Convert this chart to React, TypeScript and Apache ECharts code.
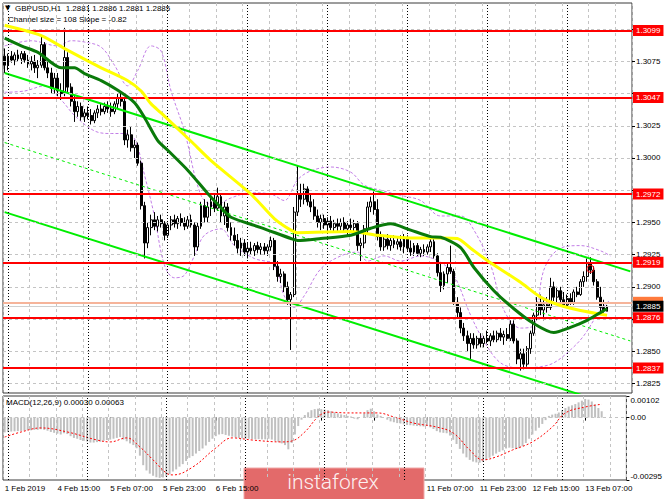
import React, { useEffect, useRef } from "react";
import * as echarts from "echarts";

// prices are stored in pips above 1.2800
const BASE = 1.28;
const TOTAL_SLOTS = 189;

const opens = [
  279,272,279,276,280,277,281,276,273,275,
  270,272,288,270,266,254,262,252,250,278,
  255,244,236,240,232,235,233,229,235,238,
  236,240,238,236,242,247,244,214,218,208,
  210,196,163,134,146,152,147,152,149,140,
  148,152,149,153,150,147,152,148,131,147,
  163,154,162,166,161,170,155,162,146,140,
  136,130,134,127,130,128,132,129,131,128,
  131,136,116,108,110,100,90,94,158,172,
  168,176,166,162,155,150,153,148,151,146,
  149,147,150,145,148,146,149,132,134,145,
  162,166,160,139,131,137,132,136,133,135,
  131,138,130,127,132,126,129,127,131,135,
  124,111,101,110,115,112,88,80,68,62,
  56,60,55,60,56,60,58,62,59,64,
  61,63,60,71,58,44,48,40,52,64,
  78,88,82,86,84,100,92,97,90,86,
  91,88,96,94,104,108,118,113,104,92,
  84,81
];
const highs = [
  285,281,283,282,284,283,283,280,279,280,
  276,294,290,276,270,266,266,258,301,282,
  258,248,244,243,238,240,238,237,241,242,
  243,244,243,244,250,252,246,222,224,214,
  212,198,166,150,156,158,155,156,151,150,
  155,156,155,157,154,155,156,150,150,166,
  168,166,170,172,177,172,166,165,150,146,
  141,138,137,134,135,134,135,134,134,133,
  139,138,120,114,112,104,96,162,194,180,
  180,178,172,168,160,156,156,154,155,152,
  153,153,154,151,153,152,151,138,148,166,
  170,174,168,143,140,141,139,140,139,140,
  141,140,136,134,134,131,133,133,137,137,
  126,118,112,118,132,114,92,84,72,66,
  64,64,62,64,62,66,64,66,66,68,
  66,68,74,74,60,52,52,54,66,80,
  92,94,90,92,107,104,100,100,96,94,
  95,98,100,106,112,122,123,116,106,100,
  90,86
];
const lows = [
  266,268,274,272,275,273,274,270,268,266,
  262,270,268,262,250,250,248,245,248,250,
  240,228,232,229,228,230,226,227,231,233,
  234,235,232,234,238,240,210,208,205,200,
  194,160,122,130,140,144,143,146,136,138,
  144,146,145,147,144,145,146,124,128,145,
  150,150,155,158,159,150,148,143,136,132,
  126,124,124,122,125,124,126,125,125,124,
  128,113,104,103,96,86,51,92,155,162,
  164,163,158,152,146,144,145,142,144,142,
  143,144,142,140,143,141,128,120,130,142,
  158,156,136,128,128,129,128,130,129,128,
  126,128,124,124,124,123,124,125,127,122,
  108,96,98,103,110,86,76,64,58,50,
  43,52,52,53,53,56,54,57,57,58,
  55,58,58,56,40,35,36,38,48,62,
  74,78,74,80,82,89,88,88,84,84,
  86,86,92,93,100,104,110,101,90,80,
  80,81
];
const closes = [
  272,279,276,280,277,281,276,273,275,270,
  272,288,270,266,254,262,252,250,278,255,
  244,236,240,232,235,233,229,235,238,236,
  240,238,236,242,247,244,214,218,208,210,
  196,163,134,146,152,147,152,149,140,148,
  152,149,153,150,147,152,148,131,147,163,
  154,162,166,161,170,155,162,146,140,136,
  130,134,127,130,128,132,129,131,128,131,
  136,116,108,110,100,90,94,158,172,168,
  176,166,162,155,150,153,148,151,146,149,
  147,150,145,148,146,149,132,134,145,162,
  166,160,139,131,137,132,136,133,135,131,
  138,130,127,132,126,129,127,131,135,124,
  111,101,110,115,112,88,80,68,62,56,
  60,55,60,56,60,58,62,59,64,61,
  63,60,71,58,44,48,40,52,64,78,
  88,82,86,84,100,92,97,90,86,91,
  88,96,94,104,108,118,113,104,92,84,
  82,85
];

// moving averages / bands: [bar index, pips]
const maYellow = [
  [0,303],[11,295],[19,283.5],[29,270],[37,260],[41,252],[44,242],[47,235],[56,213],[62,198],
  [74,172],[81,153],[86,144],[88,142],[104,143],[112,140],[122,138],[131,138],[136,137.5],
  [140,130],[145,120.5],[155,103.5],[161,92],[167,85.5],[173,81.7],[181,78]
];
const maGreen = [
  [0,293],[5,287],[10,282],[17,270],[21,270],[24,265.5],[29,260],[34,252.5],[39,243],[42,231.5],
  [46,213.5],[49,206],[55,190.5],[61,172.5],[65,161.5],[68,154],[77,146],[86,137.5],[88,136],
  [95,137.5],[104,140],[110,145.5],[116,149],[122,144],[128,139],[131,138.5],[137,130.5],
  [141,115],[147,97],[153,83],[159,71.5],[165,64.5],[170,68.5],[175,74],[179,80],[181,83]
];
const bandUpper = [
  [0,287],[8,291],[16,287],[20,291],[24,290],[29,286],[33,272],[37,256],[40,268],[44,287],
  [47,283],[50,252],[54,221],[59,171],[63,163],[68,169],[74,173],[80,172],[84,167],[88,183],
  [92,190],[98,193],[104,189],[108,179],[113,175],[119,171],[125,167],[131,155],[137,155],
  [141,144],[146,117],[150,82],[155,68],[159,70],[162,113],[167,130],[173,132],[179,128],[182,124]
];
const bandLower = [
  [0,251],[6,252],[12,256],[17,245],[21,233],[27,221],[32,219],[36,219],[39,215],[42,187],
  [45,155],[48,117],[51,107],[54,109],[57,124],[60,140],[65,145],[69,132],[75,122],[81,117],
  [84,93],[87,84],[90,93],[95,114],[101,124],[106,127],[109,120],[114,124],[119,120],[125,124],
  [131,119],[135,109],[140,78],[144,58],[149,41],[155,37],[161,38],[165,41],[170,51],[174,62],
  [179,82],[182,90]
];
// linear regression channel (size 108, slope -0.82 per bar)
const channelUpper = [[0,266],[188,112]];
const channelMiddle = [[0,212],[188,58]];
const channelLower = [[0,158],[188,4]];

// MACD main (histogram) in 1e-5 units, one per bar
const macdMain = [
  -70,-68,-66,-65,-64,-63,-62,-60,-60,-58,-58,-55,
  -58,-62,-68,-72,-76,-80,-74,-78,
  -88,-96,-100,-106,-110,-113,
  -118,-118,-116,-114,
  -110,-106,-104,-100,-96,-92,-104,-112,-122,-130,
  -145,
  -180,-225,-250,-265,-275,-282,-285,-283,-278,
  -268,-255,-245,-232,-220,-205,
  -190,-182,-170,-158,-146,-132,
  -115,-100,-88,-80,
  -78,-82,-86,-90,
  -94,-96,-98,-100,-100,-101,-102,-102,-103,-103,-100,-104,-110,-116,-122,-130,
  -150,
  -120,-80,-40,
  -10,12,
  25,35,40,42,40,38,35,
  30,25,20,15,12,8,
  5,-5,-8,0,
  20,35,42,30,
  15,8,0,
  -10,-18,-22,-26,-28,-32,
  -35,-36,-38,-40,-41,-42,-40,
  -46,-54,-64,-70,-72,-74,-85,
  -105,-125,-148,-170,-188,
  -200,-208,-212,-213,-210,
  -200,-190,-180,-170,-162,
  -155,-146,-142,-145,
  -148,-145,-135,-120,
  -100,-80,-62,-48,
  -30,-12,
  8,14,18,24,
  35,45,52,58,64,72,80,
  88,85,76,
  62,45,30
];
const macdSignal = [
  [0,-92],[5,-68],[11,-49],[19,-68],[28,-106],[32,-115],[37,-96],[41,-139],[45,-200],[49,-262],
  [51,-271],[57,-234],[64,-144],[69,-96],[75,-106],[84,-115],[87,-111],[91,-68],[95,3],[98,26],
  [104,22],[113,22],[118,3],[124,-26],[131,-45],[136,-73],[141,-153],[145,-200],[149,-186],
  [154,-153],[160,-115],[166,-45],[170,22],[176,50],[181,63]
];

const levels = [1.3099, 1.3047, 1.2972, 1.2919, 1.2876, 1.2837];
const askPrice = 1.2888;
const bidPrice = 1.2885;
const priceTicks = [1.2825, 1.285, 1.2875, 1.29, 1.2925, 1.295, 1.2975, 1.3, 1.3025, 1.305, 1.3075, 1.31];
// tick labels hidden behind the level tags in the reference
const coveredPriceLabels = [1.2875, 1.2975, 1.305, 1.31];
const macdTicks = [-0.00295, 0, 0.00102];
const timeLabels = [
  "1 Feb 2019", "4 Feb 15:00", "5 Feb 07:00", "5 Feb 23:00", "6 Feb 15:00", "7 Feb 07:00",
  "7 Feb 23:00", "8 Feb 15:00", "11 Feb 07:00", "11 Feb 23:00", "12 Feb 15:00", "13 Feb 07:00"
];
// labels fully covered by the watermark in the reference
const coveredLabels = ["7 Feb 07:00", "7 Feb 23:00", "8 Feb 15:00"];
const daySeparators = [1, 25, 49, 73, 97, 121, 145, 169];
const signalMark = [176, 114];

const FONT = "'Liberation Sans', 'DejaVu Sans', Arial, sans-serif";

export default function App() {
  const ref = useRef<HTMLDivElement>(null);
  useEffect(() => {
    if (!ref.current) return;
    const chart = echarts.init(ref.current, undefined, { renderer: "svg" });
    const p = (v: number) => Math.round((BASE + v / 10000) * 100000) / 100000;
    const categories = Array.from({ length: TOTAL_SLOTS }, (_, i) => String(i));
    const candles = opens.map((o, i) => [p(o), p(closes[i]), p(lows[i]), p(highs[i])]);
    const pts = (arr: number[][]) => arr.map(([i, v]) => [i, p(v)]);
    const priceLabelValues = priceTicks.filter((v) => !coveredPriceLabels.includes(v));
    const gridLine = { color: "#c4c4c4", type: [3, 3], width: 1 };
    const sepLine = { color: "#000000", type: [1, 2], width: 1 };
    const lvlLabel = (bg: string, fg: string) => ({
      show: true,
      position: "end",
      distance: 1,
      formatter: (pp: any) => Number(pp.value).toFixed(4),
      backgroundColor: bg,
      color: fg,
      padding: [1, 3, 1, 3],
      fontSize: 8,
      lineHeight: 9,
      fontFamily: FONT,
    });
    const askTag = {
      show: true,
      position: "end",
      distance: 1,
      formatter: "{a|}",
      rich: { a: { width: 30, height: 11, backgroundColor: "#ff7a3c" } },
    };
    const axisText = { fontSize: 8, fontFamily: FONT, color: "#000" };

    const option: any = {
      animation: false,
      backgroundColor: "#ffffff",
      grid: [
        { left: 3, top: 3, width: 629, height: 390, show: true, borderColor: "#3a3a3a", borderWidth: 1 },
        { left: 3, top: 396, width: 629, height: 84, show: true, borderColor: "#3a3a3a", borderWidth: 1 },
      ],
      xAxis: [
        {
          type: "category", gridIndex: 0, data: categories, boundaryGap: true,
          axisLine: { show: false }, axisTick: { show: false }, axisLabel: { show: false },
          splitLine: { show: true, interval: 7, lineStyle: gridLine },
        },
        {
          type: "category", gridIndex: 1, data: categories, boundaryGap: true,
          axisLine: { show: false },
          axisTick: { show: true, interval: 15, alignWithLabel: true, length: 3, lineStyle: { color: "#000" } },
          axisLabel: {
            show: true, interval: 15, align: "left", margin: 4, ...axisText,
            formatter: (_v: string, idx: number) => {
              const t = timeLabels[idx / 16] ?? "";
              return coveredLabels.includes(t) ? "" : t;
            },
          },
          splitLine: { show: true, interval: 7, lineStyle: gridLine },
        },
      ],
      yAxis: [
        {
          type: "value", gridIndex: 0, position: "right", min: 1.28176, max: 1.31203,
          splitLine: { show: false }, axisLine: { show: false },
          axisTick: { show: true, customValues: priceTicks, length: 3, lineStyle: { color: "#000" } },
          axisLabel: { show: true, customValues: priceLabelValues, margin: 4, ...axisText, formatter: (v: number) => v.toFixed(4) },
        },
        {
          type: "value", gridIndex: 1, position: "right", min: -0.00295, max: 0.00102,
          splitLine: { show: false }, axisLine: { show: false },
          axisTick: { show: true, customValues: macdTicks, length: 3, lineStyle: { color: "#000" } },
          axisLabel: {
            show: true, customValues: macdTicks, margin: 4, ...axisText,
            verticalAlignMaxLabel: "top", verticalAlignMinLabel: "bottom",
            formatter: (v: number) => (v === 0 ? "0.00" : v.toFixed(5)),
          },
        },
      ],
      series: [
        {
          name: "gridMain", type: "line", xAxisIndex: 0, yAxisIndex: 0, data: [], z: 1, silent: true,
          markLine: {
            silent: true, precision: 6, symbol: ["none", "none"], label: { show: false }, lineStyle: gridLine,
            data: [
              ...priceTicks.map((v) => ({ yAxis: v })),
              ...daySeparators.map((i) => ({ xAxis: i, lineStyle: sepLine })),
            ],
          },
        },
        {
          name: "gridMacd", type: "line", xAxisIndex: 1, yAxisIndex: 1, data: [], z: 1, silent: true,
          markLine: {
            silent: true, precision: 6, symbol: ["none", "none"], label: { show: false }, lineStyle: gridLine,
            data: [
              { yAxis: 0 },
              ...daySeparators.map((i) => ({ xAxis: i, lineStyle: sepLine })),
            ],
          },
        },
        {
          name: "bbUpper", type: "line", xAxisIndex: 0, yAxisIndex: 0, data: pts(bandUpper), smooth: 0.35,
          symbol: "none", z: 2, lineStyle: { color: "#c27ee6", width: 1, type: [3, 2] },
        },
        {
          name: "bbLower", type: "line", xAxisIndex: 0, yAxisIndex: 0, data: pts(bandLower), smooth: 0.35,
          symbol: "none", z: 2, lineStyle: { color: "#c27ee6", width: 1, type: [3, 2] },
        },
        {
          name: "GBPUSD", type: "candlestick", xAxisIndex: 0, yAxisIndex: 0, data: candles, z: 3,
          barWidth: 2.4,
          itemStyle: { color: "#ffffff", color0: "#000000", borderColor: "#000000", borderColor0: "#000000", borderWidth: 1 },
        },
        {
          name: "chUpper", type: "line", xAxisIndex: 0, yAxisIndex: 0, data: pts(channelUpper), symbol: "none", z: 4,
          lineStyle: { color: "#00ee00", width: 2 },
        },
        {
          name: "chMiddle", type: "line", xAxisIndex: 0, yAxisIndex: 0, data: pts(channelMiddle), symbol: "none", z: 4,
          lineStyle: { color: "#00ee00", width: 1, type: [3, 3] },
        },
        {
          name: "chLower", type: "line", xAxisIndex: 0, yAxisIndex: 0, data: pts(channelLower), symbol: "none", z: 4,
          lineStyle: { color: "#00ee00", width: 2 },
        },
        {
          name: "maYellow", type: "line", xAxisIndex: 0, yAxisIndex: 0, data: pts(maYellow), smooth: 0.25,
          symbol: "none", z: 5, lineStyle: { color: "#ffff00", width: 3 },
        },
        {
          name: "maGreen", type: "line", xAxisIndex: 0, yAxisIndex: 0, data: pts(maGreen), smooth: 0.25,
          symbol: "none", z: 5, lineStyle: { color: "#0a7a0a", width: 3 },
        },
        {
          name: "levels", type: "line", xAxisIndex: 0, yAxisIndex: 0, data: [], z: 6, silent: true,
          markLine: {
            silent: true, precision: 6, symbol: ["none", "none"],
            data: [
              ...levels.map((v) => ({ yAxis: v, lineStyle: { color: "#ff0000", width: 2, type: "solid" }, label: lvlLabel("#ff0000", "#ffffff") })),
              { yAxis: askPrice, lineStyle: { color: "#f6b49a", width: 2, type: "solid" }, label: askTag },
              { yAxis: bidPrice, lineStyle: { color: "#d0d0d0", width: 1, type: "solid" }, label: lvlLabel("#000000", "#ffffff") },
            ],
          },
        },
        {
          name: "mark", type: "scatter", xAxisIndex: 0, yAxisIndex: 0, z: 7, symbol: "circle", symbolSize: 7,
          data: [[signalMark[0], p(signalMark[1])]],
          itemStyle: { color: "rgba(0,0,0,0)", borderColor: "#ff0000", borderWidth: 1.2 },
        },
        {
          name: "MACD", type: "bar", xAxisIndex: 1, yAxisIndex: 1, z: 3, barWidth: 2,
          data: macdMain.map((v) => v / 100000),
          itemStyle: { color: "#c0c0c0" },
        },
        {
          name: "Signal", type: "line", xAxisIndex: 1, yAxisIndex: 1, z: 4, symbol: "none", smooth: 0.4,
          data: macdSignal.map(([i, v]) => [i, v / 100000]),
          lineStyle: { color: "#ff0000", width: 1, type: [2, 2] },
        },
      ],
      graphic: [
        { type: "text", x: 5, y: 8, z: 10, style: { text: "▼", fontSize: 7, fontFamily: "'DejaVu Sans', sans-serif", fill: "#000", verticalAlign: "middle" } },
        { type: "text", x: 15, y: 8, z: 10, style: { text: "GBPUSD,H1  1.2881 1.2886 1.2881 1.2885", fontSize: 8, fontFamily: FONT, fill: "#000", verticalAlign: "middle" } },
        { type: "text", x: 8, y: 19, z: 10, style: { text: "Channel size = 108 Slope = -0.82", fontSize: 8, fontFamily: FONT, fill: "#000", verticalAlign: "middle" } },
        { type: "text", x: 6, y: 402, z: 10, style: { text: "MACD(12,26,9) 0.00030 0.00063", fontSize: 8, fontFamily: FONT, fill: "#000", verticalAlign: "middle" } },
        {
          type: "group", z: 20,
          children: [
            { type: "rect", shape: { x: 244, y: 468, width: 180, height: 32 }, style: { fill: "#e36a6a", stroke: "#f0a8a8", lineWidth: 1 } },
            { type: "text", x: 333, y: 482, style: { text: "instaforex", fontSize: 21, fontFamily: "Roboto, 'Open Sans', sans-serif", fontWeight: 300, fill: "#fdf0f0", align: "center", verticalAlign: "middle" } },
          ],
        },
      ],
    };
    chart.setOption(option);
    return () => chart.dispose();
  }, []);
  return (
    <div
      ref={ref}
      style={{ position: "absolute", left: 0, top: 0, width: 665, height: 499, background: "#ffffff" }}
    />
  );
}
